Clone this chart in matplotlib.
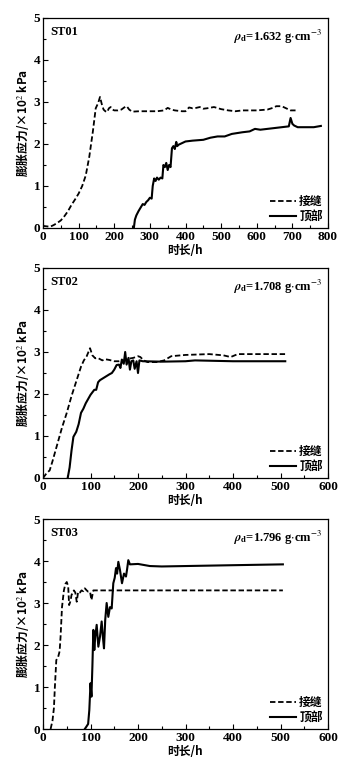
import matplotlib
matplotlib.use("Agg")
import matplotlib.pyplot as plt
from matplotlib.ticker import MultipleLocator

# ST01 data (time h, swelling stress x10^2 kPa)
st01_joint_t = [0, 20, 30, 40, 50, 60, 70, 80, 90, 100, 110, 120, 130, 140, 148, 155, 160, 165,
                170, 175, 180, 185, 190, 195, 200, 210, 220, 228, 235, 242, 250, 270, 300, 320,
                340, 350, 360, 370, 390, 400, 410, 420, 430, 440, 450, 460, 480, 500, 520, 540,
                560, 600, 630, 645, 655, 670, 685, 695, 710]
st01_joint_v = [0.05, 0.03, 0.07, 0.12, 0.18, 0.28, 0.40, 0.55, 0.68, 0.82, 1.0, 1.25, 1.7, 2.3,
                2.85, 2.98, 3.12, 2.95, 2.82, 2.78, 2.76, 2.85, 2.88, 2.82, 2.80, 2.80, 2.82,
                2.87, 2.90, 2.82, 2.77, 2.78, 2.78, 2.78, 2.80, 2.86, 2.82, 2.80, 2.78, 2.78,
                2.87, 2.85, 2.86, 2.88, 2.84, 2.85, 2.88, 2.83, 2.80, 2.78, 2.80, 2.80, 2.82,
                2.86, 2.90, 2.90, 2.84, 2.80, 2.80]
st01_top_t = [255, 258, 262, 268, 275, 280, 285, 290, 295, 300, 305, 308, 312, 316, 320, 325,
              330, 335, 338, 342, 346, 350, 354, 358, 362, 366, 370, 374, 377, 380, 390, 400,
              420, 450, 470, 490, 510, 530, 560, 580, 595, 610, 650, 690, 695, 700, 705, 715,
              730, 760, 780]
st01_top_v = [0, 0.2, 0.3, 0.4, 0.5, 0.57, 0.55, 0.62, 0.66, 0.72, 0.70, 1.0, 1.18, 1.12, 1.2,
              1.15, 1.2, 1.18, 1.5, 1.45, 1.55, 1.38, 1.5, 1.45, 1.9, 1.95, 1.88, 2.05, 1.95,
              1.98, 2.02, 2.06, 2.08, 2.1, 2.15, 2.18, 2.18, 2.24, 2.28, 2.30, 2.36, 2.34, 2.38,
              2.42, 2.62, 2.48, 2.44, 2.40, 2.40, 2.40, 2.43]

# ST02 data
st02_joint_t = [0, 8, 14, 20, 30, 40, 50, 60, 70, 80, 86, 92, 99, 104, 110, 115, 120, 125, 130,
                140, 150, 160, 170, 180, 190, 200, 205, 212, 220, 240, 255, 270, 300, 350, 380,
                395, 410, 450, 510]
st02_joint_v = [0.0, 0.12, 0.18, 0.4, 0.8, 1.2, 1.55, 1.95, 2.3, 2.65, 2.8, 2.9, 3.09, 2.92,
                2.85, 2.86, 2.83, 2.8, 2.83, 2.81, 2.78, 2.78, 2.80, 2.84, 2.86, 2.90, 2.88,
                2.80, 2.76, 2.76, 2.80, 2.90, 2.93, 2.95, 2.92, 2.88, 2.95, 2.95, 2.95]
st02_top_t = [52, 56, 60, 64, 70, 75, 80, 85, 90, 95, 100, 108, 112, 116, 120, 130, 140,
              145, 150, 155, 160, 163, 166, 170, 173, 176, 180, 183, 186, 190, 193, 197, 200,
              203, 210, 250, 300, 320, 400, 510]
st02_top_v = [0, 0.25, 0.65, 0.98, 1.1, 1.28, 1.55, 1.65, 1.78, 1.88, 1.98, 2.1, 2.1, 2.28,
              2.33, 2.4, 2.47, 2.5, 2.58, 2.69, 2.7, 2.62, 2.82, 2.72, 3.0, 2.7, 2.86, 2.58,
              2.78, 2.8, 2.6, 2.78, 2.5, 2.8, 2.78, 2.77, 2.78, 2.80, 2.78, 2.78]

# ST03 data
st03_joint_t = [16, 20, 23, 25, 28, 32, 35, 37, 40, 44, 47, 50, 53, 55, 58, 60, 63, 65, 68,
                71, 74, 78, 81, 85, 88, 92, 95, 99, 102, 106, 110, 200, 300, 400, 505]
st03_joint_v = [0, 0.2, 0.5, 1.0, 1.64, 1.72, 1.85, 2.2, 2.9, 3.3, 3.45, 3.5, 3.4, 2.95,
                3.05, 3.19, 3.25, 3.3, 3.25, 3.03, 3.27, 3.25, 3.3, 3.28, 3.35, 3.3, 3.27, 3.27,
                3.07, 3.3, 3.3, 3.3, 3.3, 3.3, 3.3]
st03_top_t = [88, 91, 95, 97.5, 100, 102, 104, 106, 108, 110, 113, 116.5, 120, 123.5, 126,
              128.4, 131, 134, 137.5, 141, 144.6, 148, 151, 153.7, 156, 158.6, 162, 166.3,
              170.5, 174.7, 177, 179.6, 183, 200, 225, 250, 300, 400, 505]
st03_top_v = [0, 0.05, 0.12, 0.45, 1.09, 0.77, 1.5, 2.36, 1.88, 2.2, 2.48, 1.96, 2.2, 2.56,
              2.2, 1.92, 2.6, 3.0, 2.67, 2.9, 2.87, 3.47, 3.6, 3.83, 3.7, 3.98, 3.79, 3.47,
              3.7, 3.63, 3.8, 4.02, 3.92, 3.93, 3.88, 3.87, 3.88, 3.9, 3.92]

rho_fmt = r"$\boldsymbol{\rho}_\mathbf{d}$=%s g$\cdot$cm$^{-3}$"
panels = [
    ("ST01", rho_fmt % "1.632", 800, st01_joint_t, st01_joint_v, st01_top_t, st01_top_v),
    ("ST02", rho_fmt % "1.708", 600, st02_joint_t, st02_joint_v, st02_top_t, st02_top_v),
    ("ST03", rho_fmt % "1.796", 600, st03_joint_t, st03_joint_v, st03_top_t, st03_top_v),
]

plt.rcParams['font.family'] = ['Liberation Serif', 'Noto Sans CJK SC']
plt.rcParams['mathtext.fontset'] = 'stix'
fs = 9.5
cjk = ['Noto Sans CJK SC', 'Liberation Serif']

fig = plt.figure(figsize=(3.56, 7.69), dpi=100)
bottoms = [541, 291, 40]  # pixel distance of axis bottom from figure bottom

for (name, rho, xmax, jt, jv, tt, tv), b in zip(panels, bottoms):
    ax = fig.add_axes([43 / 356, b / 769, 285 / 356, 210 / 769])
    ax.plot(jt, jv, color='black', lw=1.3, ls=(0, (3, 1.5)), label='接缝')
    ax.plot(tt, tv, color='black', lw=1.5, ls='-', label='顶部')
    ax.set_xlim(0, xmax)
    ax.set_ylim(0, 5)
    ax.xaxis.set_major_locator(MultipleLocator(100))
    ax.xaxis.set_minor_locator(MultipleLocator(50))
    ax.yaxis.set_major_locator(MultipleLocator(1))
    ax.yaxis.set_minor_locator(MultipleLocator(0.5))
    ax.tick_params(which='both', direction='in', top=False, right=False, width=0.8)
    ax.tick_params(which='major', length=3.5, labelsize=fs, pad=2)
    ax.tick_params(which='minor', length=2)
    for lab in ax.get_xticklabels() + ax.get_yticklabels():
        lab.set_fontweight('bold')
    for sp in ax.spines.values():
        sp.set_linewidth(0.9)
    ax.set_xlabel('时长/h', family=cjk, fontsize=8.5, fontweight='bold', labelpad=1)
    ax.set_ylabel('膨胀应力/×10$^2$ kPa', family=cjk, fontsize=8.5, fontweight='bold',
                  labelpad=2)
    ax.text(0.025, 0.96, name, transform=ax.transAxes, fontsize=9, fontweight='bold',
            va='top', ha='left')
    ax.text(0.98, 0.955, rho, transform=ax.transAxes, fontsize=9, fontweight='bold',
            va='top', ha='right')
    ax.legend(loc='lower right', frameon=False, handlelength=2.2,
              handletextpad=0.3, labelspacing=0.15, borderaxespad=0.05,
              prop={'family': cjk, 'size': 8.5, 'weight': 'bold'})

fig.savefig('out.png', dpi=100)
